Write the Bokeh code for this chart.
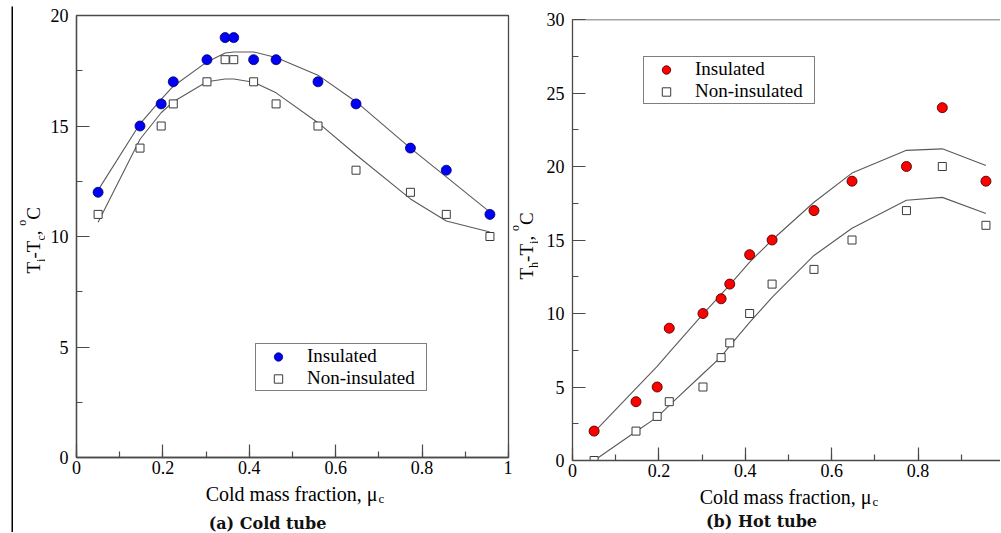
import math
from bokeh.plotting import figure
from bokeh.models import Label, Span, SingleIntervalTicker, NumeralTickFormatter
from bokeh.layouts import row, column
from bokeh.embed import file_html
from bokeh.resources import INLINE

# ---------------- data ----------------
mu_c = [0.05, 0.147, 0.196, 0.224, 0.302, 0.344, 0.364, 0.41, 0.462, 0.559, 0.647, 0.773, 0.856, 0.957]

# (a) cold tube: Ti - Tc
cold_ins = [12, 15, 16, 17, 18, 19, 19, 18, 18, 17, 16, 14, 13, 11]
cold_non = [11, 14, 15, 16, 17, 18, 18, 17, 16, 15, 13, 12, 11, 10]
cold_ins_fit = [12.1, 15.1, 16.2, 16.8, 17.9, 18.3, 18.35, 18.35, 18.1, 17.3, 16.1, 14.0, 12.7, 11.1]
cold_non_fit = [10.65, 14.4, 15.6, 16.1, 17.0, 17.13, 17.13, 16.98, 16.5, 15.15, 13.7, 11.7, 10.7, 10.2]

# (b) hot tube: Th - Ti
hot_ins = [2, 4, 5, 9, 10, 11, 12, 14, 15, 17, 19, 20, 24, 19]
hot_non = [0, 2, 3, 4, 5, 7, 8, 10, 12, 13, 15, 17, 20, 16]
hot_ins_fit = [1.93, 4.9, 6.4, 7.35, 9.95, 11.3, 11.95, 13.5, 15.0, 17.57, 19.55, 21.1, 21.2, 20.07]
hot_non_fit = [0.0, 1.97, 2.95, 3.75, 5.9, 7.05, 7.8, 9.4, 11.1, 13.95, 15.8, 17.7, 17.9, 16.8]

legend_labels = ["Insulated", "Non-insulated"]
x_ticks_interval = 0.2
y_ticks_interval = 5

SERIF = "Liberation Serif"
AX = "#4a4a4a"
LINE = "#5a5a5a"

W = {"T": 0.611, "i": 0.278, "-": 0.333, "c": 0.444, ",": 0.25, " ": 0.25,
     "o": 0.5, "C": 0.667, "h": 0.5}


def text_w(s, size):
    return sum(W[ch] for ch in s) * size


def blank(width, height, fill="white"):
    """A bare figure without axes, used to carry text labels or a solid rule."""
    f = figure(width=width, height=height, x_range=(0, width), y_range=(0, height),
               x_axis_location=None, y_axis_location=None, output_backend="svg",
               toolbar_location=None, min_border_left=0, min_border_right=0,
               min_border_top=0, min_border_bottom=0)
    f.outline_line_color = None
    f.grid.visible = False
    f.background_fill_color = fill
    f.border_fill_color = fill
    return f


def clabel(p, x, y, txt, size, align="left", angle=0.0, font=SERIF, style="normal",
           color="black"):
    p.add_layout(Label(x=x, y=y, x_units="canvas", y_units="canvas", text=txt,
                       angle=angle, text_font=font, text_font_style=style,
                       text_font_size=f"{size}px", text_baseline="alphabetic",
                       text_align=align, text_color=color))


def vlabel(p, pieces, base_x, start_y, main=19, small=12):
    y = start_y
    shift = {"n": 0, "sub": 7, "sup": -12}
    for txt, kind in pieces:
        size = main if kind == "n" else small
        clabel(p, base_x + shift[kind], y, txt, size, angle=math.pi / 2)
        y -= text_w(txt, size)


def xlabel(p, x, y):
    clabel(p, x, y, "Cold mass fraction, \u03bc", 20, align="right")
    clabel(p, x + 1, y + 5, "c", 13)


def style(p):
    p.xgrid.visible = False
    p.ygrid.visible = False
    p.background_fill_color = "white"
    p.border_fill_color = "white"
    p.xaxis.ticker = SingleIntervalTicker(interval=x_ticks_interval, num_minor_ticks=2)
    p.yaxis.ticker = SingleIntervalTicker(interval=y_ticks_interval, num_minor_ticks=2)
    p.xaxis.formatter = NumeralTickFormatter(format="0.[0]")
    p.yaxis.formatter = NumeralTickFormatter(format="0")
    for ax in (p.xaxis[0], p.yaxis[0]):
        ax.axis_line_color = AX
        ax.axis_line_width = 1.3
        ax.major_tick_line_color = AX
        ax.minor_tick_line_color = AX
        ax.major_tick_line_width = 1.2
        ax.minor_tick_line_width = 1.2
        ax.major_tick_in = 13
        ax.major_tick_out = 0
        ax.minor_tick_in = 6
        ax.minor_tick_out = 0
        ax.major_label_text_font = SERIF
        ax.major_label_text_font_size = "18px"
        ax.major_label_text_color = "black"
    p.xaxis.major_label_standoff = 3
    p.yaxis.major_label_standoff = 8


def legend_style(p, loc):
    lg = p.legend[0]
    lg.location = loc
    lg.border_line_color = "black"
    lg.border_line_width = 1
    lg.background_fill_color = "white"
    lg.background_fill_alpha = 1
    lg.padding = 1
    lg.spacing = 0
    lg.margin = 0
    lg.glyph_width = 42
    lg.glyph_height = 21
    lg.label_height = 19
    lg.label_width = 118
    lg.label_standoff = 8
    lg.label_text_font = SERIF
    lg.label_text_font_size = "19px"
    lg.label_text_color = "black"


# ---------------- (a) cold tube ----------------
p1 = figure(width=467, height=473, x_range=(0, 1), y_range=(0, 20),
            output_backend="svg", toolbar_location=None,
            min_border_left=31, min_border_right=4, min_border_top=7, min_border_bottom=24)
style(p1)
p1.outline_line_color = AX
p1.outline_line_width = 1.3
p1.line(mu_c, cold_ins_fit, line_color=LINE, line_width=1.1)
p1.line(mu_c, cold_non_fit, line_color=LINE, line_width=1.1)
p1.scatter(mu_c, cold_ins, marker="circle", size=10, fill_color="#0000f5",
           line_color="#000070", line_width=0.8, legend_label=legend_labels[0])
p1.scatter(mu_c, cold_non, marker="square", size=8, fill_color="white",
           line_color="#3a3a3a", line_width=1, legend_label=legend_labels[1])
legend_style(p1, (179, 66))

ylab1 = blank(32, 473)
vlabel(ylab1, [("T", "n"), ("i", "sub"), ("-T", "n"), ("c", "sub"), (", ", "n"),
               ("o", "sup"), ("C", "n")], base_x=20, start_y=265)
xlab1 = blank(499, 51)
xlabel(xlab1, 364, 12)
clabel(xlab1, 254, 42, "(a) Cold tube", 16, align="center", font="DejaVu Serif",
       style="bold", color="#111111")

# ---------------- (b) hot tube ----------------
p2 = figure(width=462, height=476, x_range=(0, 0.9907), y_range=(0, 30),
            output_backend="svg", toolbar_location=None,
            min_border_left=34, min_border_right=0, min_border_top=11, min_border_bottom=24)
style(p2)
p2.outline_line_color = None
p2.add_layout(Span(location=30, dimension="width", line_color=AX, line_width=1.3))
p2.line(mu_c, hot_ins_fit, line_color=LINE, line_width=1.1)
p2.line(mu_c, hot_non_fit, line_color=LINE, line_width=1.1)
p2.scatter(mu_c, hot_ins, marker="circle", size=10, fill_color="#ff0000",
           line_color="#500000", line_width=0.9, legend_label=legend_labels[0])
p2.scatter(mu_c, hot_non, marker="square", size=8, fill_color="white",
           line_color="#3a3a3a", line_width=1, legend_label=legend_labels[1])
legend_style(p2, (71, 356))

ylab2 = blank(26, 476)
vlabel(ylab2, [("T", "n"), ("h", "sub"), ("-T", "n"), ("i", "sub"), (", ", "n"),
               ("o", "sup"), ("C", "n")], base_x=14, start_y=271)
xlab2 = blank(488, 48)
xlabel(xlab2, 359, 12)
clabel(xlab2, 249, 37, "(b) Hot tube", 16, align="center", font="DejaVu Serif",
       style="bold", color="#111111")

# ---------------- outer rules & layout ----------------
left_pad = blank(11, 532)
left_rule = column(blank(2, 6), blank(2, 526, fill="black"))
main = column(blank(987, 6), blank(987, 2, fill="black"),
              row(column(row(ylab1, p1), xlab1),
                  column(row(ylab2, p2), xlab2)))
layout = row(left_pad, left_rule, main)

open("out.html", "w").write(file_html(layout, INLINE))
